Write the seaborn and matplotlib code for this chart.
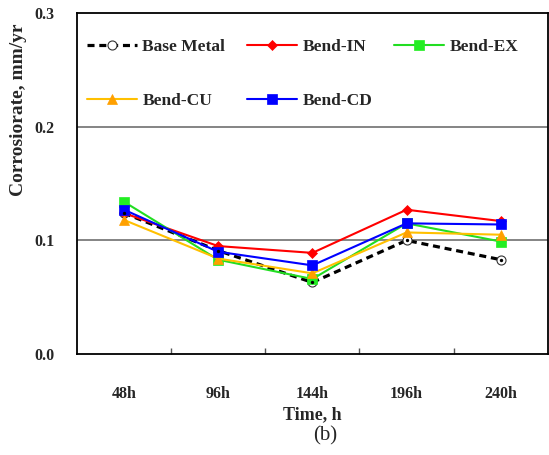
import matplotlib
matplotlib.use("Agg")
import matplotlib.pyplot as plt
import seaborn as sns
import pandas as pd
import numpy as np

times = ["48h", "96h", "144h", "196h", "240h"]
base_metal = [0.124, 0.091, 0.063, 0.100, 0.083]
bend_in = [0.124, 0.095, 0.089, 0.127, 0.117]
bend_ex = [0.134, 0.083, 0.066, 0.115, 0.099]
bend_cu = [0.118, 0.084, 0.071, 0.107, 0.105]
bend_cd = [0.127, 0.090, 0.078, 0.115, 0.114]

series = {
    "Base Metal": base_metal,
    "Bend-IN": bend_in,
    "Bend-EX": bend_ex,
    "Bend-CU": bend_cu,
    "Bend-CD": bend_cd,
}
styles = {
    "Base Metal": dict(color="black", marker="o", ls=(0, (2.2, 1.5)), lw=2.3, ms=6.5, mfc="white", mec="#333333", mew=0.8),
    "Bend-IN": dict(color="#FF0000", marker="D", ls="-", lw=1.5, ms=5, mfc="#FF0000", mec="#FF0000", mew=0.5),
    "Bend-EX": dict(color="#22DD22", marker="s", ls="-", lw=1.5, ms=6.5, mfc="#22EE22", mec="#22EE22", mew=0.5),
    "Bend-CU": dict(color="#FFC000", marker="^", ls="-", lw=1.5, ms=6.5, mfc="#FFA000", mec="#FFA000", mew=0.5),
    "Bend-CD": dict(color="#0000FF", marker="s", ls="-", lw=1.5, ms=6.5, mfc="#0000FF", mec="#0000FF", mew=0.5),
}

sns.set_theme(style="white")
plt.rcParams["font.family"] = ["Liberation Serif", "DejaVu Serif"]

fig = plt.figure(figsize=(5.49, 4.55), dpi=100)
ax = fig.add_axes([0.140, 0.222, 0.858, 0.749])

x = np.arange(len(times))
for name, vals in series.items():
    df = pd.DataFrame({"x": x, "y": vals})
    st = styles[name]
    sns.lineplot(data=df, x="x", y="y", ax=ax, color=st["color"], linewidth=st["lw"],
                 linestyle=st["ls"], marker=st["marker"], markersize=st["ms"],
                 markerfacecolor=st["mfc"], markeredgecolor=st["mec"], markeredgewidth=st["mew"],
                 label=name, zorder=3)
# dot inside base-metal circles
ax.scatter(x, base_metal, s=2, color="black", zorder=4)

ax.set_xlim(-0.5, 4.5)
ax.set_ylim(0, 0.3)
ax.set_yticks([0.0, 0.1, 0.2, 0.3])
ax.set_yticklabels(["0.0", "0.1", "0.2", "0.3"], fontweight="bold", fontsize=11.5)
ax.set_xticks(x)
ax.set_xticklabels(times, fontweight="bold", fontsize=11.5)
ax.set_xticks(np.arange(0.5, 4.5, 1.0), minor=True)
ax.tick_params(axis="x", which="major", length=0, pad=23)
ax.tick_params(axis="x", which="minor", length=4, direction="in", color="#555555", bottom=True)
ax.tick_params(axis="y", which="major", length=0, pad=16)
for yv in [0.1, 0.2]:
    ax.axhline(yv, color="#707070", lw=1.2, zorder=1)
for s in ax.spines.values():
    s.set_color("black")
    s.set_linewidth(1.3)

ax.set_xlabel("Time, h", fontweight="bold", fontsize=13, labelpad=3)
ax.set_ylabel("Corrosiorate, mm/yr", fontsize=14, fontweight="bold")
ax.yaxis.set_label_coords(-0.106, 0.716)

handles, labels = ax.get_legend_handles_labels()
hmap = dict(zip(labels, handles))
order = ["Base Metal", "Bend-CU", "Bend-IN", "Bend-CD", "Bend-EX"]
leg = ax.legend([hmap[k] for k in order], order, loc="upper left", ncol=3, frameon=False,
                prop={"weight": "bold", "size": 12.5}, handlelength=2.9,
                labelspacing=2.2, columnspacing=1.25, handletextpad=0.3,
                borderpad=0, borderaxespad=0,
                bbox_to_anchor=(0.021, 0.925))

fig.text(0.592, 0.022, "(b)", ha="center", va="bottom", fontsize=15)

fig.savefig("out.png", dpi=100)
